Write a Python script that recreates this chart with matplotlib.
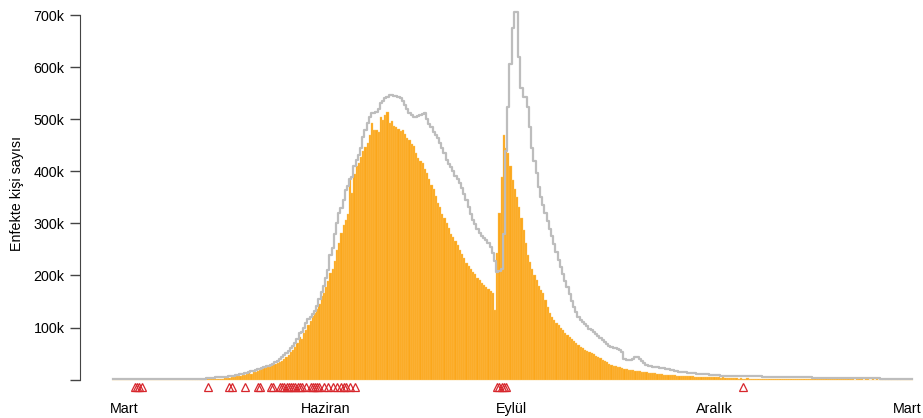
import numpy as np
import matplotlib
matplotlib.use("Agg")
import matplotlib.pyplot as plt

plt.rcParams['font.family'] = ['Liberation Sans', 'DejaVu Sans']

# daily infected counts (thousands), one value per day
infected = [
    0, 0, 0, 0, 0, 0, 0, 0, 0, 0,
    0, 0, 0, 0, 0, 0, 0, 0, 0, 0,
    0, 0, 0, 0, 0, 0, 0, 0, 0, 0,
    0, 0, 0, 0, 1, 0, 0, 1, 0, 1,
    1, 1, 1, 1, 1, 2, 1, 2, 2, 2,
    2, 3, 3, 3, 4, 5, 7, 6, 7, 8,
    9, 10, 12, 11, 14, 15, 16, 19, 20, 22,
    25, 24, 27, 29, 30, 32, 33, 36, 40, 44,
    48, 52, 57, 62, 70, 82, 78, 90, 96, 104,
    112, 122, 128, 135, 146, 160, 166, 178, 190, 205,
    212, 228, 249, 262, 282, 296, 307, 318, 384, 358,
    395, 410, 416, 428, 440, 447, 454, 470, 493, 480,
    480, 476, 504, 498, 509, 514, 493, 497, 488, 486,
    482, 478, 480, 472, 465, 460, 452, 448, 435, 426,
    420, 416, 405, 397, 385, 374, 366, 352, 340, 332,
    318, 310, 301, 292, 280, 274, 266, 258, 249, 242,
    234, 224, 218, 212, 207, 202, 196, 191, 186, 182,
    178, 174, 170, 166, 134, 243, 320, 390, 470, 445,
    435, 410, 384, 366, 350, 332, 310, 288, 262, 240,
    226, 212, 200, 191, 180, 172, 166, 152, 140, 128,
    120, 114, 109, 104, 99, 95, 90, 86, 82, 78,
    74, 70, 66, 63, 60, 57, 55, 53, 51, 49,
    46, 43, 41, 38, 36, 33, 30, 28, 27, 26,
    25, 24, 22, 21, 20, 19, 18, 18, 17, 16,
    16, 15, 14, 14, 13, 13, 12, 12, 11, 11,
    10, 9, 9, 9, 8, 8, 8, 7, 7, 7,
    7, 6, 6, 6, 6, 5, 5, 5, 5, 5,
    5, 4, 4, 5, 4, 4, 4, 3, 4, 3,
    3, 3, 3, 3, 3, 2, 3, 2, 2, 3,
    2, 2, 2, 2, 2, 2, 2, 2, 2, 2,
    2, 2, 2, 1, 2, 1, 1, 2, 1, 1,
    1, 1, 1, 1, 1, 1, 1, 1, 1, 1,
    1, 1, 1, 1, 1, 1, 1, 1, 1, 1,
    1, 1, 1, 1, 1, 1, 1, 1, 0, 1,
    1, 1, 0, 1, 1, 0, 1, 0, 1, 0,
    0, 1, 0, 0, 1, 0, 0, 0, 1, 0,
    0, 0, 0, 0, 0,
]

# grey step curve (thousands)
reference = [
    1, 1, 1, 1, 1, 1, 1, 1, 1, 1,
    1, 1, 1, 1, 1, 1, 1, 1, 1, 1,
    1, 1, 1, 1, 1, 1, 1, 1, 1, 1,
    1, 1, 1, 1, 2, 2, 2, 2, 2, 2,
    2, 2, 2, 3, 3, 3, 3, 4, 4, 4,
    4, 5, 5, 6, 6, 7, 8, 9, 10, 11,
    12, 13, 15, 16, 17, 18, 20, 21, 23, 25,
    26, 27, 28, 30, 33, 36, 40, 43, 47, 51,
    55, 60, 65, 71, 78, 89, 92, 100, 108, 116,
    120, 125, 132, 142, 155, 168, 180, 195, 210, 240,
    252, 280, 300, 320, 330, 345, 364, 372, 385, 390,
    410, 422, 431, 445, 466, 480, 493, 505, 512, 513,
    514, 520, 531, 535, 540, 542, 546, 546, 545, 544,
    543, 540, 535, 527, 520, 512, 508, 505, 504, 506,
    508, 510, 512, 500, 490, 485, 476, 470, 464, 455,
    445, 435, 422, 415, 408, 400, 392, 385, 378, 368,
    356, 345, 332, 318, 307, 298, 290, 282, 276, 272,
    268, 262, 255, 243, 228, 207, 208, 212, 280, 440,
    524, 607, 675, 706, 706, 620, 560, 543, 543, 524,
    486, 445, 420, 397, 370, 350, 335, 320, 305, 290,
    275, 260, 245, 230, 216, 202, 190, 178, 164, 150,
    140, 130, 120, 114, 110, 106, 102, 98, 95, 92,
    88, 84, 80, 76, 72, 69, 65, 63, 61, 60,
    58, 57, 52, 40, 38, 38, 38, 40, 43, 43,
    40, 36, 32, 28, 27, 26, 25, 24, 24, 23,
    22, 22, 21, 20, 19, 18, 17, 16, 15, 15,
    14, 14, 13, 13, 12, 12, 11, 11, 11, 10,
    10, 10, 9, 9, 8, 8, 8, 7, 7, 7,
    7, 7, 7, 7, 6, 6, 6, 6, 6, 6,
    6, 6, 6, 6, 6, 6, 5, 5, 5, 5,
    5, 5, 5, 5, 5, 5, 5, 5, 4, 4,
    4, 4, 4, 4, 4, 4, 4, 4, 4, 3,
    3, 3, 3, 3, 3, 3, 3, 3, 3, 3,
    3, 3, 3, 3, 3, 3, 3, 3, 3, 3,
    3, 3, 3, 3, 3, 3, 3, 3, 3, 3,
    2, 2, 2, 2, 2, 2, 2, 2, 2, 2,
    2, 2, 2, 2, 2,
]

# days with events (red triangles)
event_days = [10, 11, 12, 13, 43, 53, 54, 60, 66, 67, 72, 73,
              76, 77, 78, 79, 80, 81, 82, 83, 84, 85, 86, 88, 90,
              91, 92, 93, 94, 96, 98, 100, 102, 104, 105, 106, 108, 110,
              175, 176, 177, 178, 179, 287]

month_pos = [5, 97, 181.3, 273.8, 361.7]
month_labels = ['Mart', 'Haziran', 'Eylül', 'Aralık', 'Mart']

days = np.arange(len(infected))
inf = np.array(infected) * 1000
ref = np.array(reference) * 1000

fig = plt.figure(figsize=(9.23, 4.18), dpi=100)
ax = fig.add_axes([0.0867, 0.0546, 0.9101, 0.934])

# bars nearly touching, thin light seams like the original
ax.bar(days, inf, width=1.0, color='#fba71b', edgecolor='#fcc768', linewidth=0.25)
ax.step(days, ref, where='mid', color='#bdbdbd', linewidth=1.6)
ax.plot(event_days, [-14000] * len(event_days), linestyle='none', marker='^',
        markersize=6, markerfacecolor='none', markeredgecolor='#d7262c',
        markeredgewidth=0.9)

ax.set_xlim(-15.08, 367.6)
ax.set_ylim(-30000, 720000)

yt = np.arange(0, 800000, 100000)
ax.set_yticks(yt)
ax.set_yticklabels([''] + ['%dk' % (v // 1000) for v in yt[1:]])
ax.set_xticks(month_pos)
ax.set_xticklabels(month_labels)

for s in ['top', 'right', 'bottom']:
    ax.spines[s].set_visible(False)
ax.spines['left'].set_bounds(0, 700000)
ax.spines['left'].set_color('#444444')
ax.tick_params(axis='y', length=7, width=1, color='#444444', pad=4, labelsize=10.3)
ax.tick_params(axis='x', length=0, pad=5, labelsize=10.3)

fig.text(0.0184, 0.538, 'Enfekte kişi sayısı', rotation=90, ha='center', va='center', fontsize=10.3)

fig.savefig('out.png', dpi=100)
